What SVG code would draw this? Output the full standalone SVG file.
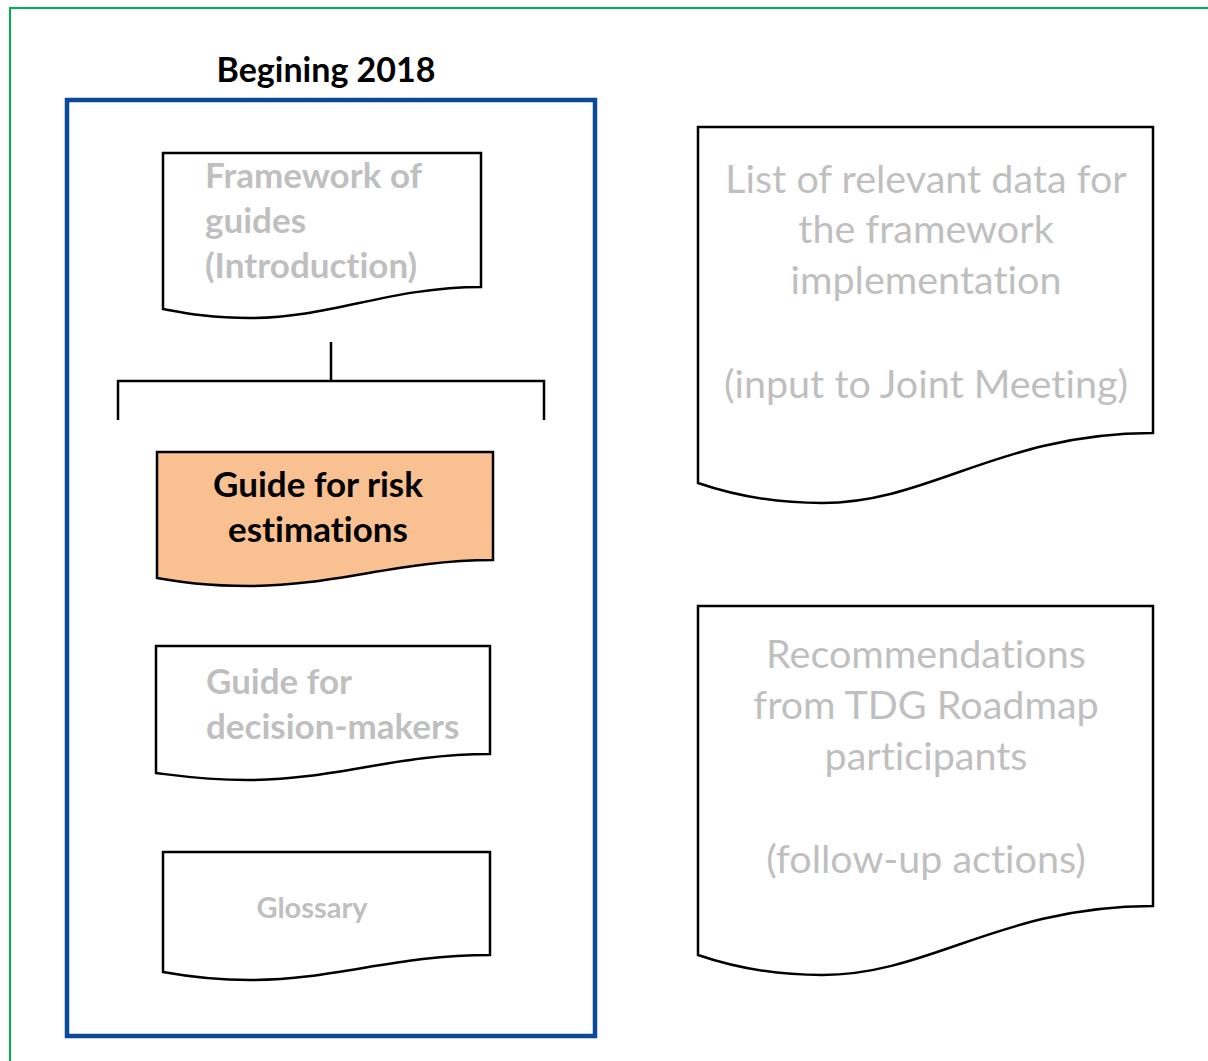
<svg xmlns="http://www.w3.org/2000/svg" width="1208" height="1061" viewBox="0 0 1208 1061">
<style>
text{font-variant-ligatures:none;font-feature-settings:"liga" 0}
.doc{fill:#ffffff;stroke:#000000;stroke-width:2.5;stroke-linejoin:miter}
.hl{fill:#f9c191}
.gb{font-family:Lato,"Liberation Sans",sans-serif;font-weight:bold;fill:#bfbfbf;font-size:35px}
.gr{font-family:Lato,"Liberation Sans",sans-serif;fill:#bfbfbf;font-size:39.5px;text-anchor:middle}
.bk{font-family:Lato,"Liberation Sans",sans-serif;font-weight:bold;fill:#000000;font-size:35px;text-anchor:middle}
.conn{fill:none;stroke:#000000;stroke-width:2.5}
</style>
<rect x="10" y="8" width="1220" height="1080" fill="#ffffff" stroke="#00b050" stroke-width="2"/>
<text x="326" y="82" class="bk" style="font-size:34px">Begining 2018</text>
<rect id="frame2018" x="67" y="100" width="528" height="936" fill="none" stroke="#0b4a96" stroke-width="4.5"/>
<g id="connectors">
<path class="conn" d="M331,342 V381 M118,420 V381 H544 V420"/>
</g>
<g id="framework">
<path class="doc" d="M163,153 H481 V287 C390,287 330,318 250,318 C210,318 185,313 163,309 Z"/>
<text class="gb" x="205" y="188">Framework of</text>
<text class="gb" x="205" y="233">guides</text>
<text class="gb" x="205" y="278">(Introduction)</text>
</g>
<g id="risk">
<path class="doc hl" d="M157,452 H493 V560 C400,560 335,586 250,586 C205,586 180,582 157,578 Z"/>
<text class="bk" x="318" y="497">Guide for risk</text>
<text class="bk" x="318" y="542">estimations</text>
</g>
<g id="decision">
<path class="doc" d="M156,646 H490 V754 C395,754 335,780 248,780 C205,780 180,776 156,773 Z"/>
<text class="gb" x="206" y="694">Guide for</text>
<text class="gb" x="206" y="739">decision-makers</text>
</g>
<g id="glossary">
<path class="doc" d="M163,852 H490 V955 C395,955 335,980 250,980 C210,980 185,976 163,972 Z"/>
<text class="gb" x="312" y="918" style="text-anchor:middle;font-size:29px">Glossary</text>
</g>
<g id="listdata">
<path class="doc" d="M698,127 H1153 V433 C1000,433 930,503 822,503 C770,503 730,494 698,483 Z"/>
<text class="gr" x="926" y="193">List of relevant data for</text>
<text class="gr" x="926" y="243">the framework</text>
<text class="gr" x="926" y="294">implementation</text>
<text class="gr" x="926" y="398">(input to Joint Meeting)</text>
</g>
<g id="recommendations">
<path class="doc" d="M698,606 H1153 V906 C1000,906 930,975 822,975 C770,975 730,966 698,955 Z"/>
<text class="gr" x="926" y="668">Recommendations</text>
<text class="gr" x="926" y="719">from TDG Roadmap</text>
<text class="gr" x="926" y="770">participants</text>
<text class="gr" x="926" y="873">(follow-up actions)</text>
</g>
</svg>
